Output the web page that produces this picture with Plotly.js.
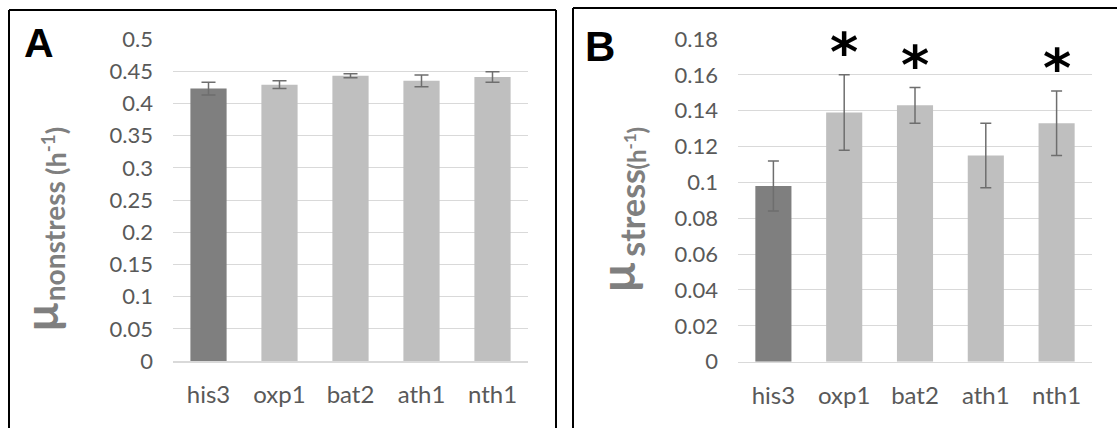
<!DOCTYPE html>
<html>
<head>
<meta charset="utf-8">
<script src="https://cdn.plot.ly/plotly-3.0.1.min.js"></script>
<style>html,body{margin:0;padding:0;background:#fff;}#chart{width:1117px;height:428px;}</style>
</head>
<body>
<div id="chart"></div>
<script>
// ---- data ----
var categories = ['his3', 'oxp1', 'bat2', 'ath1', 'nth1'];
var muNonstress = [0.423, 0.429, 0.443, 0.435, 0.441];
var errNonstress = [0.010, 0.006, 0.003, 0.009, 0.008];
var muStress = [0.098, 0.139, 0.143, 0.115, 0.133];
var errStress = [0.014, 0.021, 0.010, 0.018, 0.018];
var significantStress = [false, true, true, false, true];
var yTicksA = [0, 0.05, 0.1, 0.15, 0.2, 0.25, 0.3, 0.35, 0.4, 0.45, 0.5];
var yTicksB = [0, 0.02, 0.04, 0.06, 0.08, 0.1, 0.12, 0.14, 0.16, 0.18];
var titleA = ['μ', 'nonstress', '(h<sup>-1</sup>)'];
var titleB = ['μ', 'stress', '(h<sup>-1</sup>)'];

// ---- layout helpers ----
var W = 1117, H = 428;
function px(x) { return x / W; }
function py(y) { return 1 - y / H; }
var barColors = categories.map(function (c, i) { return i === 0 ? '#7f7f7f' : '#bfbfbf'; });
var tickFont = {family: 'Lato, "Open Sans", sans-serif', size: 22, color: '#595959'};
var xTickFont = {family: 'Lato, "Open Sans", sans-serif', size: 24, color: '#595959'};

var traces = [
  {
    type: 'bar', x: categories, y: muNonstress, xaxis: 'x', yaxis: 'y',
    marker: {color: barColors},
    error_y: {type: 'data', array: errNonstress, visible: true, color: '#6e6e6e', thickness: 1.5, width: 7},
    hoverinfo: 'x+y'
  },
  {
    type: 'bar', x: categories, y: muStress, xaxis: 'x2', yaxis: 'y2',
    marker: {color: barColors},
    error_y: {type: 'data', array: errStress, visible: true, color: '#6e6e6e', thickness: 1.5, width: 5.5},
    hoverinfo: 'x+y'
  }
];

function yAxis(domainTop, domainBottom, range, ticks, anchor) {
  return {
    domain: [py(domainBottom), py(domainTop)], range: range, anchor: anchor,
    tickvals: ticks, ticktext: ticks.map(function (v) { return String(v); }),
    showgrid: true, gridcolor: '#d9d9d9', gridwidth: 1,
    zeroline: false, showline: false, ticks: '', ticklabelstandoff: 19,
    tickfont: tickFont, fixedrange: true
  };
}
function xAxis(left, right, anchor) {
  return {
    domain: [px(left), px(right)], anchor: anchor, type: 'category',
    showline: true, linecolor: '#d9d9d9', linewidth: 1.5, showgrid: false, zeroline: false,
    ticks: '', ticklabelstandoff: 12, tickfont: xTickFont, fixedrange: true
  };
}

var annotations = [];
// panel letters
annotations.push({xref: 'paper', yref: 'paper', x: px(39), y: py(43), xanchor: 'center', yanchor: 'middle',
  text: '<b>A</b>', showarrow: false, font: {family: '"Liberation Sans", Arial, sans-serif', size: 41, color: '#000'}});
annotations.push({xref: 'paper', yref: 'paper', x: px(600), y: py(47), xanchor: 'center', yanchor: 'middle',
  text: '<b>B</b>', showarrow: false, font: {family: '"Liberation Sans", Arial, sans-serif', size: 42, color: '#000'}});

// rotated axis titles, built piece by piece (symbol, subscript, unit)
function titlePiece(text, cx, cy, size) {
  annotations.push({xref: 'paper', yref: 'paper', x: px(cx), y: py(cy), xanchor: 'center', yanchor: 'middle',
    textangle: -90, text: '<b>' + text + '</b>', showarrow: false,
    font: {family: 'Lato, "Open Sans", sans-serif', size: size, color: '#7f7f7f'}});
}
titlePiece(titleA[0], 40, 317, 46);
titlePiece(titleA[1], 54.2, 241, 28);
titlePiece(titleA[2], 54, 151, 27);
titlePiece(titleB[0], 616, 277, 48);
titlePiece(titleB[1], 630.8, 213, 34);
titlePiece(titleB[2], 634.5, 148, 24);

// significance asterisks
categories.forEach(function (c, i) {
  if (significantStress[i]) {
    annotations.push({xref: 'x2', yref: 'y2', x: c, y: muStress[i] + errStress[i], xanchor: 'center', yanchor: 'middle',
      yshift: 22, text: '<b>*</b>', showarrow: false,
      font: {family: '"DejaVu Sans", "Liberation Sans", sans-serif', size: 54, color: '#000'}});
  }
});

var border = {color: '#000', width: 2};
var shapes = [
  {type: 'line', xref: 'paper', yref: 'paper', x0: px(9), y0: py(10), x1: px(556), y1: py(10), line: border},
  {type: 'line', xref: 'paper', yref: 'paper', x0: px(9), y0: py(10), x1: px(9), y1: 0, line: border},
  {type: 'line', xref: 'paper', yref: 'paper', x0: px(556), y0: py(10), x1: px(556), y1: 0, line: border},
  {type: 'line', xref: 'paper', yref: 'paper', x0: px(573), y0: py(8), x1: 1, y1: py(8), line: border},
  {type: 'line', xref: 'paper', yref: 'paper', x0: px(573), y0: py(8), x1: px(573), y1: 0, line: border}
];

var layout = {
  width: W, height: H, margin: {l: 0, r: 0, t: 0, b: 0, pad: 0},
  paper_bgcolor: '#fff', plot_bgcolor: '#fff', showlegend: false,
  bargap: 0.49,
  xaxis: xAxis(173, 528, 'y'),
  yaxis: yAxis(39, 361, [0, 0.5], yTicksA, 'x'),
  xaxis2: xAxis(738, 1092, 'y2'),
  yaxis2: yAxis(39, 361.7, [0, 0.18], yTicksB, 'x2'),
  annotations: annotations, shapes: shapes,
  font: {family: 'Lato, "Open Sans", sans-serif'}
};

Plotly.newPlot('chart', traces, layout, {displayModeBar: false, staticPlot: true});
</script>
</body>
</html>
